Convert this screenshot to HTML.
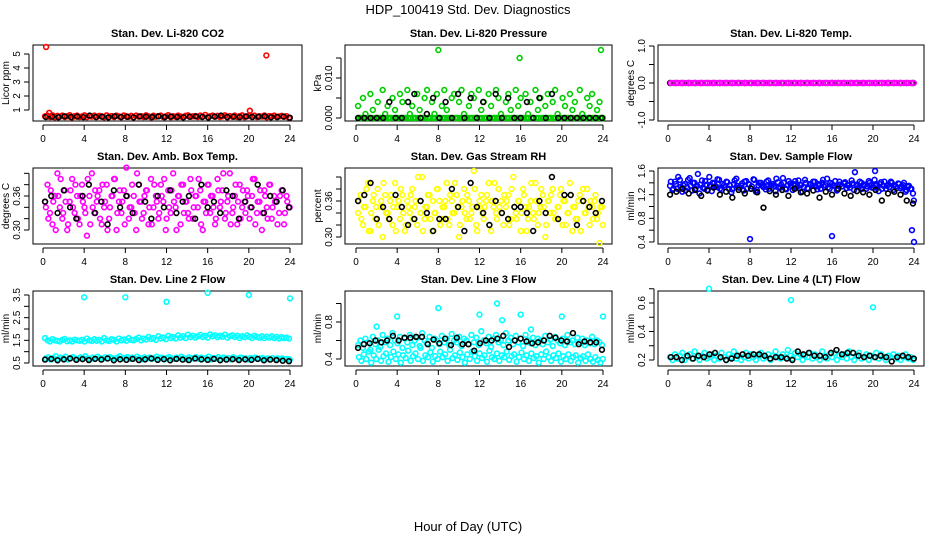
<!DOCTYPE html>
<html><head><meta charset="utf-8">
<style>
body{margin:0;background:#fff;}
svg{display:block;font-family:"Liberation Sans",sans-serif;}
</style></head>
<body>
<svg id="chart" width="936" height="540" viewBox="0 0 936 540">
<text x="468" y="14" text-anchor="middle" font-size="13">HDP_100419  Std. Dev. Diagnostics</text>
<text x="468" y="531" text-anchor="middle" font-size="13">Hour of Day (UTC)</text>
</svg>
<script>
// ---- data ----
const xTicks = [0,4,8,12,16,20,24];

const co2Main = [0.55,0.6,0.5,0.62,0.48,0.58,0.52,0.6,0.5,0.55,0.63,0.47,0.56,0.6,0.5,0.54,0.62,0.49,0.57,0.53,0.6,0.5,0.58,0.55,0.48,0.62,0.52,0.57,0.5,0.6,0.54,0.49,0.61,0.55,0.52,0.58,0.47,0.6,0.53,0.56,0.5,0.62,0.55,0.48,0.59,0.52,0.57,0.6,0.5,0.55,0.63,0.49,0.56,0.52,0.6,0.54,0.48,0.58,0.62,0.51,0.55,0.57,0.5,0.6,0.53,0.65,0.49,0.56,0.6,0.52,0.58,0.5,0.55,0.62,0.48,0.57,0.53,0.6,0.5,0.56,0.62,0.49,0.55,0.58,0.52,0.6,0.5,0.56,0.53,0.61,0.48,0.57,0.55,0.6,0.5,0.54,0.58,0.52,0.56,0.45];
const co2Black = [0.5,0.52,0.48,0.55,0.5,0.53,0.49,0.6,0.5,0.52,0.47,0.55,0.5,0.51,0.48,0.54,0.52,0.5,0.55,0.49,0.53,0.5,0.48,0.52,0.55,0.5,0.47,0.53,0.6,0.5,0.52,0.49,0.54,0.5,0.52,0.55,0.48,0.5,0.53,0.45];
const co2OutX = [0.3,0.6,20.1,21.7];
const co2OutY = [5.5,0.8,0.95,4.9];

const presMain = [0.003,0.0,0.005,0.001,0.0,0.006,0.002,0.0,0.004,0.0,0.007,0.001,0.003,0.0,0.005,0.002,0.0,0.006,0.004,0.0,0.007,0.001,0.003,0.0,0.006,0.002,0.0,0.005,0.007,0.0,0.004,0.001,0.006,0.0,0.003,0.007,0.002,0.0,0.005,0.006,0.0,0.004,0.007,0.001,0.0,0.003,0.006,0.005,0.0,0.007,0.002,0.004,0.0,0.006,0.003,0.0,0.007,0.005,0.001,0.0,0.004,0.006,0.002,0.0,0.007,0.003,0.005,0.0,0.006,0.001,0.004,0.0,0.007,0.002,0.005,0.0,0.003,0.006,0.0,0.004,0.007,0.001,0.0,0.005,0.003,0.0,0.006,0.002,0.004,0.0,0.007,0.001,0.0,0.005,0.003,0.006,0.0,0.002,0.004,0.0];
const presZero = Array(100).fill(0.0);
const presBlack = [0.0,0.0,0.0,0.0,0.0,0.004,0.0,0.0,0.004,0.006,0.0,0.001,0.005,0.0,0.004,0.0,0.006,0.0,0.005,0.0,0.004,0.0,0.006,0.0,0.005,0.0,0.0,0.004,0.0,0.005,0.0,0.006,0.0,0.0,0.0,0.0,0.0,0.0,0.0,0.0];
const presOutX = [8.0,15.9,23.8];
const presOutY = [0.017,0.015,0.017];

const tempMain = Array(100).fill(0.0);
const tempBlack = Array(40).fill(0.0);

const ambMain = [.35,.38,.33,.31,.36,.40,.34,.32,.37,.30,.35,.39,.33,.36,.31,.38,.34,.29,.36,.40,.33,.35,.37,.31,.34,.38,.32,.36,.39,.30,.35,.33,.37,.41,.32,.34,.36,.30,.38,.35,.33,.37,.31,.39,.34,.36,.32,.38,.35,.30,.37,.33,.40,.34,.36,.31,.38,.35,.33,.39,.32,.36,.34,.37,.30,.35,.38,.33,.36,.31,.39,.34,.37,.32,.35,.40,.33,.36,.31,.38,.34,.35,.37,.32,.36,.39,.33,.35,.30,.37,.34,.38,.32,.36,.35,.33,.37,.31,.36,.34];
const ambMain2 = [.34,.32,.37,.35,.30,.36,.39,.33,.35,.31,.37,.34,.38,.32,.36,.35,.33,.39,.31,.34,.37,.36,.32,.38,.35,.30,.34,.36,.39,.33,.37,.35,.31,.36,.34,.38,.33,.40,.35,.32,.36,.37,.34,.31,.38,.35,.33,.36,.39,.32,.34,.37,.35,.30,.36,.38,.33,.35,.32,.37,.34,.36,.39,.31,.35,.33,.38,.36,.34,.32,.37,.35,.40,.33,.36,.31,.34,.38,.35,.32,.37,.33,.36,.34,.39,.31,.35,.37,.33,.36,.32,.38,.34,.35,.31,.36,.37,.33,.35,.34];
const ambBlack = [.35,.36,.33,.37,.34,.32,.36,.38,.33,.35,.31,.37,.34,.36,.33,.38,.35,.32,.36,.34,.37,.33,.35,.36,.32,.38,.34,.35,.33,.37,.36,.32,.35,.34,.38,.33,.36,.35,.37,.34];

const rhMain = [.34,.37,.32,.35,.39,.31,.36,.33,.38,.35,.30,.37,.34,.36,.32,.39,.35,.33,.37,.31,.36,.34,.38,.35,.32,.36,.40,.33,.35,.37,.31,.34,.38,.36,.33,.35,.39,.32,.36,.34,.37,.30,.35,.38,.33,.36,.34,.41,.32,.35,.37,.33,.36,.39,.31,.35,.34,.38,.36,.32,.35,.37,.33,.40,.34,.36,.31,.38,.35,.33,.36,.34,.39,.32,.35,.37,.30,.36,.34,.38,.33,.35,.37,.32,.36,.34,.39,.31,.35,.33,.37,.36,.34,.38,.32,.35,.36,.33,.29,.35];
const rhMain2 = [.36,.33,.35,.38,.31,.34,.37,.35,.32,.36,.39,.34,.33,.37,.35,.31,.36,.38,.34,.32,.35,.37,.33,.36,.40,.34,.31,.35,.37,.33,.36,.34,.38,.32,.35,.36,.33,.37,.34,.39,.35,.32,.36,.34,.37,.33,.35,.38,.31,.36,.34,.35,.37,.32,.36,.39,.33,.35,.34,.37,.36,.32,.38,.35,.33,.36,.34,.37,.31,.35,.39,.33,.36,.34,.38,.35,.32,.36,.37,.34,.33,.35,.38,.36,.32,.34,.37,.35,.33,.36,.31,.38,.34,.35,.36,.33,.37,.34,.35,.32];
const rhBlack = [.36,.37,.39,.33,.35,.33,.37,.35,.32,.33,.36,.34,.31,.33,.33,.38,.35,.31,.39,.35,.34,.32,.36,.34,.33,.35,.35,.34,.31,.36,.34,.40,.33,.37,.37,.32,.36,.35,.34,.36];

const flowMain = [1.35,1.28,1.42,1.3,1.45,1.25,1.38,1.32,1.48,1.27,1.4,1.35,1.22,1.44,1.3,1.37,1.5,1.26,1.39,1.33,1.45,1.28,1.36,1.42,1.3,1.24,1.38,1.47,1.32,1.35,1.27,1.43,1.38,1.3,1.46,1.25,1.36,1.4,1.33,1.29,1.44,1.35,1.38,1.26,1.41,1.32,1.48,1.3,1.36,1.39,1.28,1.43,1.34,1.37,1.25,1.45,1.31,1.38,1.35,1.42,1.29,1.36,1.4,1.33,1.47,1.3,1.38,1.35,1.27,1.42,1.34,1.39,1.31,1.36,1.44,1.28,1.37,1.33,1.4,1.35,1.3,1.43,1.36,1.32,1.38,1.26,1.41,1.35,1.3,1.37,1.42,1.28,1.34,1.39,1.31,1.36,1.25,1.33,1.3,1.22];
const flowMain2 = [1.42,1.3,1.38,1.5,1.33,1.36,1.27,1.45,1.35,1.4,1.3,1.55,1.37,1.32,1.43,1.28,1.36,1.4,1.34,1.46,1.3,1.38,1.33,1.41,1.36,1.29,1.44,1.35,1.32,1.39,1.42,1.3,1.37,1.34,1.45,1.28,1.4,1.36,1.33,1.42,1.3,1.38,1.35,1.47,1.32,1.37,1.4,1.29,1.43,1.35,1.38,1.31,1.44,1.36,1.33,1.4,1.3,1.37,1.42,1.34,1.38,1.3,1.45,1.36,1.32,1.4,1.35,1.43,1.29,1.37,1.34,1.41,1.36,1.32,1.39,1.58,1.35,1.42,1.3,1.37,1.34,1.4,1.32,1.45,1.36,1.38,1.3,1.42,1.35,1.33,1.4,1.36,1.31,1.38,1.34,1.4,1.28,1.35,1.3,1.1];
const flowBlack = [1.2,1.25,1.3,1.22,1.28,1.18,1.27,1.32,1.2,1.25,1.15,1.28,1.22,1.3,1.24,0.98,1.26,1.2,1.28,1.18,1.3,1.24,1.22,1.27,1.15,1.25,1.2,1.3,1.22,1.18,1.26,1.24,1.2,1.28,1.1,1.22,1.25,1.2,1.1,1.05];
const flowOutX = [8.0,16.0,23.8,24.0,20.2];
const flowOutY = [0.45,0.5,0.6,0.4,1.6];

const l2Upper = [1.6,1.5,1.45,1.55,1.5,1.48,1.45,1.52,1.56,1.46,1.5,1.45,1.53,1.5,1.48,1.52,1.45,1.58,1.5,1.47,1.55,1.48,1.52,1.45,1.6,1.5,1.47,1.55,1.52,1.45,1.58,1.5,1.54,1.48,1.6,1.52,1.5,1.56,1.62,1.5,1.58,1.54,1.65,1.56,1.6,1.52,1.68,1.58,1.62,1.55,1.7,1.6,1.65,1.58,1.72,1.62,1.68,1.6,1.75,1.64,1.7,1.62,1.68,1.74,1.65,1.7,1.62,1.76,1.68,1.72,1.64,1.7,1.66,1.75,1.62,1.68,1.72,1.65,1.7,1.6,1.68,1.64,1.72,1.66,1.6,1.7,1.65,1.62,1.68,1.6,1.66,1.62,1.68,1.6,1.65,1.58,1.64,1.6,1.62,1.58];
const l2Lower = [0.7,0.75,0.65,0.72,0.8,0.68,0.74,0.7,0.78,0.66,0.72,0.76,0.7,0.68,0.75,0.72,0.8,0.7,0.66,0.74,0.7,0.78,0.72,0.68,0.75,0.7,0.76,0.72,0.68,0.74,0.8,0.7,0.72,0.76,0.68,0.74,0.7,0.78,0.72,0.66,0.75,0.7,0.74,0.68,0.72,0.78,0.7,0.74,0.66,0.72,0.76,0.7,0.68,0.74,0.72,0.78,0.7,0.66,0.75,0.72,0.7,0.76,0.68,0.74,0.7,0.72,0.78,0.66,0.72,0.7,0.76,0.68,0.74,0.7,0.72,0.66,0.75,0.7,0.68,0.74,0.72,0.7,0.66,0.72,0.7,0.74,0.68,0.7,0.72,0.66,0.7,0.68,0.72,0.66,0.7,0.68,0.7,0.66,0.68,0.65];
const l2Black = [0.65,0.68,0.62,0.66,0.7,0.64,0.67,0.63,0.68,0.65,0.7,0.62,0.66,0.64,0.68,0.63,0.66,0.7,0.64,0.67,0.62,0.68,0.65,0.63,0.7,0.66,0.64,0.68,0.62,0.65,0.67,0.63,0.66,0.64,0.68,0.62,0.65,0.63,0.6,0.58];
const l2OutX = [4.0,8.0,12.0,16.0,20.0,24.0];
const l2OutY = [3.4,3.4,3.2,3.6,3.5,3.35];

const l3Upper = [0.55,0.6,0.52,0.62,0.58,0.5,0.64,0.56,0.6,0.53,0.66,0.58,0.62,0.55,0.68,0.6,0.57,0.64,0.52,0.62,0.58,0.66,0.55,0.6,0.63,0.54,0.68,0.6,0.57,0.64,0.52,0.62,0.6,0.56,0.65,0.58,0.62,0.55,0.67,0.6,0.58,0.64,0.54,0.62,0.6,0.56,0.66,0.58,0.63,0.55,0.7,0.6,0.57,0.64,0.53,0.62,0.66,0.58,0.6,0.55,0.68,0.6,0.63,0.56,0.65,0.58,0.62,0.54,0.66,0.6,0.57,0.63,0.55,0.62,0.6,0.56,0.65,0.58,0.61,0.54,0.64,0.6,0.57,0.62,0.55,0.66,0.58,0.6,0.56,0.63,0.58,0.62,0.55,0.6,0.57,0.64,0.56,0.6,0.58,0.55];
const l3Lower = [0.42,0.38,0.45,0.4,0.48,0.36,0.44,0.4,0.5,0.38,0.43,0.46,0.37,0.42,0.48,0.4,0.45,0.36,0.44,0.41,0.49,0.38,0.43,0.46,0.4,0.52,0.38,0.44,0.42,0.47,0.37,0.43,0.4,0.48,0.42,0.45,0.38,0.5,0.41,0.44,0.39,0.47,0.42,0.36,0.45,0.4,0.48,0.43,0.38,0.46,0.41,0.44,0.37,0.49,0.42,0.4,0.46,0.38,0.44,0.42,0.48,0.39,0.43,0.45,0.37,0.42,0.47,0.4,0.44,0.38,0.46,0.41,0.43,0.36,0.45,0.4,0.48,0.42,0.38,0.44,0.41,0.46,0.37,0.43,0.4,0.45,0.38,0.42,0.44,0.36,0.41,0.43,0.38,0.45,0.4,0.37,0.42,0.39,0.36,0.4];
const l3Black = [0.52,0.56,0.57,0.6,0.58,0.6,0.65,0.6,0.63,0.63,0.64,0.64,0.56,0.61,0.57,0.62,0.55,0.63,0.56,0.56,0.49,0.57,0.6,0.6,0.62,0.65,0.53,0.6,0.62,0.59,0.57,0.58,0.6,0.65,0.63,0.6,0.59,0.68,0.56,0.59,0.58,0.58,0.5];
const l3OutX = [2.0,4.0,8.0,12.0,13.7,14.2,16.0,17.0,20.0,24.0];
const l3OutY = [0.75,0.86,0.95,0.88,1.0,0.82,0.88,0.72,0.86,0.86];

const l4Main = [0.22,0.2,0.24,0.21,0.23,0.25,0.2,0.22,0.24,0.21,0.26,0.22,0.2,0.23,0.25,0.21,0.22,0.24,0.2,0.23,0.21,0.25,0.22,0.2,0.24,0.22,0.26,0.21,0.23,0.2,0.22,0.25,0.21,0.24,0.22,0.2,0.23,0.25,0.21,0.22,0.24,0.2,0.23,0.26,0.22,0.21,0.24,0.22,0.27,0.23,0.21,0.25,0.22,0.24,0.2,0.23,0.22,0.25,0.21,0.24,0.22,0.2,0.26,0.23,0.21,0.24,0.22,0.25,0.2,0.23,0.22,0.24,0.21,0.26,0.22,0.2,0.23,0.25,0.21,0.22,0.24,0.2,0.23,0.22,0.25,0.21,0.24,0.22,0.2,0.23,0.22,0.24,0.21,0.23,0.2,0.22,0.24,0.21,0.22,0.2];
const l4Black = [0.22,0.22,0.2,0.23,0.21,0.23,0.22,0.24,0.25,0.22,0.2,0.21,0.23,0.24,0.23,0.24,0.24,0.23,0.21,0.22,0.22,0.21,0.2,0.26,0.24,0.25,0.23,0.23,0.22,0.25,0.27,0.24,0.25,0.25,0.23,0.22,0.23,0.22,0.23,0.22,0.19,0.22,0.23,0.22,0.21];
const l4OutX = [4.0,12.0,20.0];
const l4OutY = [0.7,0.62,0.57];

// ---- layout (positions, not data) ----
const cols = [{l:33,r:302,x0:43,x24:290},{l:345,r:612,x0:356,x24:603},{l:658,r:924,x0:668,x24:914}];
const rows = [{t:45,b:121},{t:168,b:244},{t:291,b:366}];

const panels = [
 {c:0,r:0,title:"Stan. Dev. Li-820 CO2",ylab:"Licor ppm",v0:1,p0:110,v1:5,p1:54,ticks:[1,2,3,4,5],labs:[1,2,3,4,5],fmt:0,
  series:[{v:co2Main,col:"#ff0000"},{v:co2Black,col:"#000"}],out:{x:co2OutX,y:co2OutY,col:"#ff0000"}},
 {c:1,r:0,title:"Stan. Dev. Li-820 Pressure",ylab:"kPa",v0:0,p0:118,v1:0.01,p1:78,ticks:[0,0.005,0.01,0.015],labs:[0,0.01],fmt:3,
  series:[{v:presMain,col:"#00cd00"},{v:presZero,col:"#00cd00"},{v:presBlack,col:"#000"}],out:{x:presOutX,y:presOutY,col:"#00cd00"}},
 {c:2,r:0,title:"Stan. Dev. Li-820 Temp.",ylab:"degrees C",v0:-1,p0:120,v1:1,p1:46,ticks:[-1,-0.5,0,0.5,1],labs:[-1,0,1],fmt:1,
  series:[{v:tempBlack,col:"#000"},{v:tempMain,col:"#ff00ff"}]},
 {c:0,r:1,title:"Stan. Dev. Amb. Box Temp.",ylab:"degrees C",v0:0.30,p0:230,v1:0.36,p1:196,ticks:[0.30,0.32,0.34,0.36,0.38,0.40],labs:[0.30,0.36],fmt:2,
  series:[{v:ambMain,col:"#ff00ff"},{v:ambMain2,col:"#ff00ff"},{v:ambBlack,col:"#000"}]},
 {c:1,r:1,title:"Stan. Dev. Gas Stream RH",ylab:"percent",v0:0.30,p0:237,v1:0.36,p1:201,ticks:[0.30,0.32,0.34,0.36,0.38,0.40],labs:[0.30,0.36],fmt:2,
  series:[{v:rhMain,col:"#ffff00"},{v:rhMain2,col:"#ffff00"},{v:rhBlack,col:"#000"}]},
 {c:2,r:1,title:"Stan. Dev. Sample Flow",ylab:"ml/min",v0:0.4,p0:242,v1:1.6,p1:171,ticks:[0.4,0.6,0.8,1.0,1.2,1.4,1.6],labs:[0.4,0.8,1.2,1.6],fmt:1,
  series:[{v:flowMain,col:"#0000ff"},{v:flowMain2,col:"#0000ff"},{v:flowBlack,col:"#000"}],out:{x:flowOutX,y:flowOutY,col:"#0000ff"}},
 {c:0,r:2,title:"Stan. Dev. Line 2 Flow",ylab:"ml/min",v0:0.5,p0:363,v1:3.5,p1:295,ticks:[0.5,1,1.5,2,2.5,3,3.5],labs:[0.5,1.5,2.5,3.5],fmt:1,
  series:[{v:l2Upper,col:"#00ffff"},{v:l2Lower,col:"#00ffff"},{v:l2Black,col:"#000"}],out:{x:l2OutX,y:l2OutY,col:"#00ffff"}},
 {c:1,r:2,title:"Stan. Dev. Line 3 Flow",ylab:"ml/min",v0:0.4,p0:359,v1:0.8,p1:322,ticks:[0.4,0.6,0.8,1.0],labs:[0.4,0.8],fmt:1,
  series:[{v:l3Upper,col:"#00ffff"},{v:l3Lower,col:"#00ffff"},{v:l3Black,col:"#000"}],out:{x:l3OutX,y:l3OutY,col:"#00ffff"}},
 {c:2,r:2,title:"Stan. Dev. Line 4 (LT) Flow",ylab:"ml/min",v0:0.2,p0:360,v1:0.6,p1:303,ticks:[0.2,0.3,0.4,0.5,0.6,0.7],labs:[0.2,0.4,0.6],fmt:1,
  series:[{v:l4Main,col:"#00ffff"},{v:l4Black,col:"#000"}],out:{x:l4OutX,y:l4OutY,col:"#00ffff"}}
];

const NS = "http://www.w3.org/2000/svg";
const svg = document.getElementById("chart");
function mk(tag, attrs, parent){
  const e = document.createElementNS(NS, tag);
  for (const k in attrs) e.setAttribute(k, attrs[k]);
  parent.appendChild(e);
  return e;
}

panels.forEach((p, pi) => {
  const C = cols[p.c], R = rows[p.r];
  const g = mk("g", {}, svg);
  
  
  const xs = h => C.x0 + (C.x24 - C.x0) * h / 24;
  const ys = v => p.p0 + (p.p1 - p.p0) * (v - p.v0) / (p.v1 - p.v0);
  const cx = (C.l + C.r) / 2;

  const t = mk("text", {x:cx, y:R.t-8, "text-anchor":"middle", "font-size":"11", "font-weight":"bold"}, g);
  t.textContent = p.title;
  
  

  const box = mk("rect", {x:C.l, y:R.t, width:C.r-C.l, height:R.b-R.t, fill:"none", stroke:"#000", "stroke-width":"1"}, g);
  
  

  const xa = mk("g", {}, g);
  
  
  mk("line", {x1:xs(0), x2:xs(24), y1:R.b+4, y2:R.b+4, stroke:"#000"}, xa);
  xTicks.forEach(h => {
    mk("line", {x1:xs(h), x2:xs(h), y1:R.b+4, y2:R.b+9, stroke:"#000"}, xa);
    const lt = mk("text", {x:xs(h), y:R.b+21, "text-anchor":"middle", "font-size":"10"}, xa);
    lt.textContent = h;
    
    
  });

  const ya = mk("g", {}, g);
  
  
  const ax = C.l - 4;
  mk("line", {x1:ax, x2:ax, y1:ys(p.ticks[0]), y2:ys(p.ticks[p.ticks.length-1]), stroke:"#000"}, ya);
  p.ticks.forEach(v => {
    mk("line", {x1:ax-5, x2:ax, y1:ys(v), y2:ys(v), stroke:"#000"}, ya);
  });
  p.labs.forEach(v => {
    const yy = ys(v);
    const lt = mk("text", {x:0, y:0, "text-anchor":"middle", "font-size":"10", transform:`translate(${ax-9},${yy}) rotate(-90)`}, ya);
    lt.textContent = v.toFixed(p.fmt);
    
    
  });
  const yl = mk("text", {x:0, y:0, "text-anchor":"middle", "font-size":"10", transform:`translate(${C.l-24},${(R.t+R.b)/2}) rotate(-90)`}, g);
  yl.textContent = p.ylab;
  
  

  p.series.forEach((s, si) => {
    const sg = mk("g", {fill:"none", stroke:s.col, "stroke-width":"1.6"}, g);
    
    
    const n = s.v.length;
    s.v.forEach((v, i) => {
      const h = 0.2 + 23.7 * i / (n - 1) + (si % 2 ? 0.08 : 0);
      const c = mk("circle", {cx:xs(h), cy:ys(v), r:2.4}, sg);
      
      
    });
  });
  if (p.out) {
    const og = mk("g", {fill:"none", stroke:p.out.col, "stroke-width":"1.6"}, g);
    
    
    p.out.x.forEach((h, i) => {
      const c = mk("circle", {cx:xs(h), cy:ys(p.out.y[i]), r:2.4}, og);
      
      
    });
  }
});
</script>
</body></html>
